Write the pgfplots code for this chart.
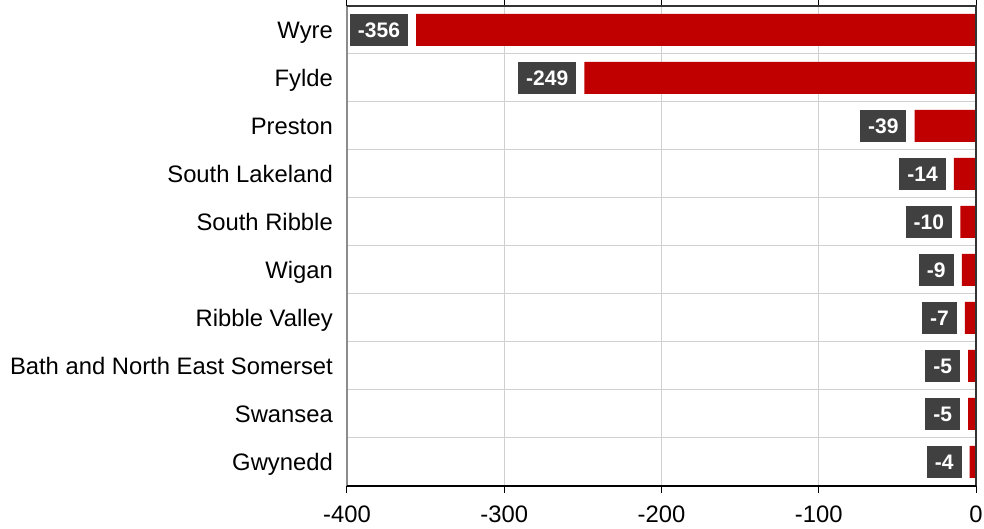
\documentclass[border=0pt]{standalone}
\usepackage{fontspec}
\setmainfont{Liberation Sans}
\usepackage{pgfplots}
\pgfplotsset{compat=1.18}
\definecolor{barred}{HTML}{C00000}
\definecolor{boxgray}{HTML}{404040}
\definecolor{gridgray}{HTML}{D0D0D0}
\definecolor{leftgray}{HTML}{8C8C8C}
\begin{document}
\begin{tikzpicture}
\path[use as bounding box] (-347pt,-43pt) rectangle (637pt,486pt);
\begin{axis}[
  at={(0pt,0pt)}, anchor=south west,
  scale only axis, width=629pt, height=480pt,
  xbar, bar width=32pt,
  xmin=-400, xmax=0, ymin=-0.5, ymax=9.5,
  xtick={-400,-300,-200,-100,0},
  ytick={0,...,9},
  yticklabels={Gwynedd,Swansea,Bath and North East Somerset,Ribble Valley,Wigan,South Ribble,South Lakeland,Preston,Fylde,Wyre},
  minor ytick={0.5,1.5,...,8.5},
  yminorgrids=true, xmajorgrids=true,
  grid style={gridgray, line width=1pt},
  minor grid style={gridgray, line width=1pt},
  axis line style={draw=none},
  tick align=outside,
  xtick style={black, line width=1pt},
  major tick length=7pt,
  ytick style={draw=none},
  minor tick length=0pt,
  /pgf/number format/assume math mode=true,
  tick label style={font=\fontsize{23.8}{28}\selectfont, text=black},
  xticklabel style={inner sep=0pt, anchor=base, yshift=-30pt},
  yticklabel style={inner sep=0pt, anchor=base east, xshift=-7pt, yshift=-8.5pt},
  clip=false,
  nodes near coords={\pgfmathprintnumber[assume math mode=true]{\pgfplotspointmeta}},
  point meta=x,
  every node near coord/.style={anchor=east, xshift=-8pt, fill=boxgray, text=white,
     font=\fontsize{21}{25}\bfseries, inner xsep=8pt, inner ysep=0pt,
     minimum height=32pt, text depth=0pt, text height=15pt},
]
\addplot[fill=barred, draw=none] coordinates {
 (-4,0) (-5,1) (-5,2) (-7,3) (-9,4) (-10,5) (-14,6) (-39,7) (-249,8) (-356,9)
};
\draw[leftgray, line width=1.5pt] (rel axis cs:0,0) -- (rel axis cs:0,1);
\draw[black!80, line width=1.5pt] (rel axis cs:0,1) -- (rel axis cs:1,1) -- (rel axis cs:1,0);
\draw[black, line width=1.5pt] (rel axis cs:0,0) -- (rel axis cs:1,0);
\end{axis}
\end{tikzpicture}
\end{document}
